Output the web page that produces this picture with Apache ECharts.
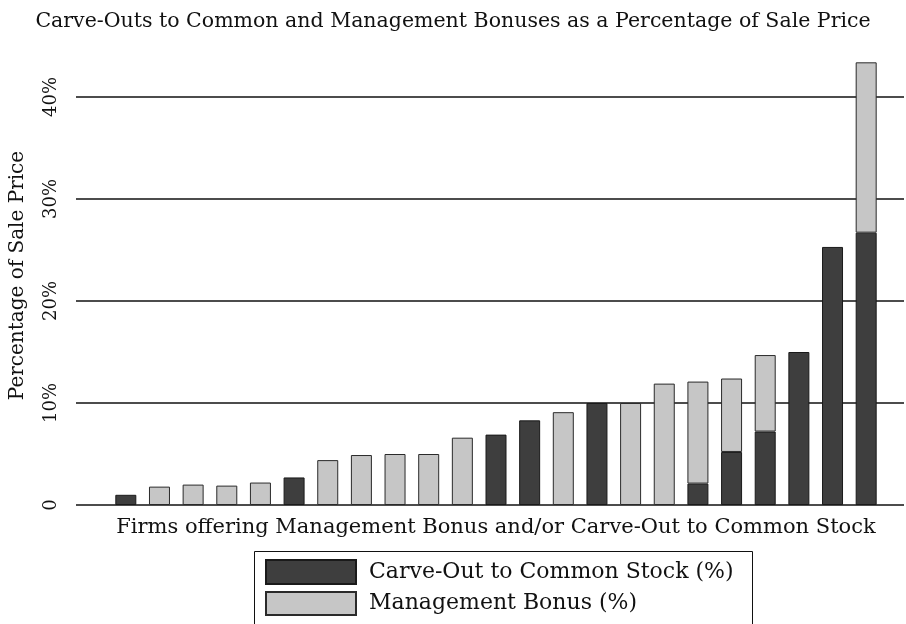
<!DOCTYPE html>
<html>
<head>
<meta charset="utf-8">
<script src="https://cdn.jsdelivr.net/npm/echarts@6/dist/echarts.min.js"></script>
<style>
html,body{margin:0;padding:0;background:#fff;}
#chart{width:906px;height:624px;}
</style>
</head>
<body>
<div id="chart"></div>
<script>
// Firms (1..23), sorted by total
var firms = ['F1','F2','F3','F4','F5','F6','F7','F8','F9','F10','F11','F12','F13','F14','F15','F16','F17','F18','F19','F20','F21','F22','F23'];
var carveOut = [1.0,0,0,0,0,2.7,0,0,0,0,0,6.9,8.3,0,10.0,0,0,2.1,5.2,7.2,15.0,25.3,26.7];
var mgmtBonus = [0,1.8,2.0,1.9,2.2,0,4.4,4.9,5.0,5.0,6.6,0,0,9.1,0,10.0,11.9,10.0,7.2,7.5,0,0,16.7];
var yTicks = [0,10,20,30,40];
var seriesNames = ['Carve-Out to Common Stock (%)', 'Management Bonus (%)'];

var FONT = 'DejaVu Serif';
function toData(arr){
  return arr.map(function(v){ return v === 0 ? '-' : v; });
}
var chart = echarts.init(document.getElementById('chart'), null, {renderer:'canvas'});
chart.setOption({
  animation:false,
  backgroundColor:'#fff',
  textStyle:{fontFamily:FONT,color:'#111'},
  title:{
    text:'Carve-Outs to Common and Management Bonuses as a Percentage of Sale Price',
    left:'center', top:6,
    textStyle:{fontFamily:FONT,fontSize:20.5,fontWeight:'normal',color:'#111'}
  },
  legend:[
    {left:265, top:559, itemWidth:90, itemHeight:24, icon:'rect', padding:0,
     textStyle:{fontFamily:FONT,fontSize:22,color:'#111',padding:[0,0,0,8]},
     data:[seriesNames[0]]},
    {left:265, top:591, itemWidth:90, itemHeight:23, icon:'rect', padding:0,
     textStyle:{fontFamily:FONT,fontSize:22,color:'#111',padding:[0,0,0,8]},
     data:[seriesNames[1]]}
  ],
  graphic:[{type:'rect', shape:{x:254.5,y:551.5,width:498,height:90},
    style:{fill:'none',stroke:'#111',lineWidth:1}, silent:true}],
  grid:[
    {left:76,right:2,top:97,bottom:119,containLabel:false},
    {left:107,right:23,top:46,bottom:119,containLabel:false}
  ],
  xAxis:[
    {gridIndex:0, type:'value', min:0, max:1, show:true,
     axisLine:{show:false}, axisTick:{show:false}, axisLabel:{show:false}, splitLine:{show:false}},
    {gridIndex:1, type:'category', data:firms,
     axisLine:{show:false}, axisTick:{show:false}, axisLabel:{show:false}, splitLine:{show:false},
     name:'Firms offering Management Bonus and/or Carve-Out to Common Stock',
     nameLocation:'middle', nameGap:12,
     nameTextStyle:{fontFamily:FONT,fontSize:21,color:'#111'}}
  ],
  yAxis:[
    {gridIndex:0, type:'value', min:0, max:40, interval:10,
     axisLine:{show:false}, axisTick:{show:false},
     splitLine:{show:true,lineStyle:{color:'#111',width:1.5}},
     axisLabel:{
       rotate:90, margin:16, fontFamily:FONT, fontSize:18, color:'#111',
       formatter:function(v){ return v===0 ? '0' : v+'%'; }
     }},
    {gridIndex:1, type:'value', min:0, max:45, show:true,
     axisLine:{show:false}, axisTick:{show:false}, axisLabel:{show:false}, splitLine:{show:false},
     name:'Percentage of Sale Price', nameLocation:'middle', nameGap:81,
     nameTextStyle:{fontFamily:FONT,fontSize:20,color:'#111'}}
  ],
  series:[
    {name:seriesNames[0], type:'bar', xAxisIndex:1, yAxisIndex:1, stack:'t', barWidth:21, data:toData(carveOut),
     itemStyle:{color:'#3e3e3e',borderColor:'#1a1a1a',borderWidth:1}},
    {name:seriesNames[1], type:'bar', xAxisIndex:1, yAxisIndex:1, stack:'t', barWidth:21, data:toData(mgmtBonus),
     itemStyle:{color:'#c6c6c6',borderColor:'#2a2a2a',borderWidth:1}}
  ]
});
</script>
</body>
</html>
